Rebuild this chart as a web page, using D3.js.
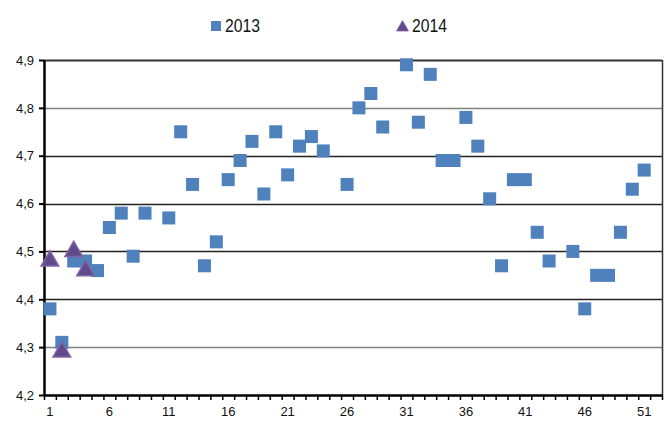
<!DOCTYPE html>
<html><head><meta charset="utf-8">
<script src="https://cdn.jsdelivr.net/npm/d3@7"></script>
<style>body{margin:0;background:#fff}svg{display:block}</style>
</head><body>
<script>
const weeks = d3.range(1, 53);
const values2013 = [4.38,4.31,4.48,4.48,4.46,4.55,4.58,4.49,4.58,null,
  4.57,4.75,4.64,4.47,4.52,4.65,4.69,4.73,4.62,4.75,
  4.66,4.72,4.74,4.71,null,4.64,4.80,4.83,4.76,null,
  4.89,4.77,4.87,4.69,4.69,4.78,4.72,4.61,4.47,4.65,
  4.65,4.54,4.48,null,4.50,4.38,4.45,4.45,4.54,4.63,
  4.67,null];
const weeks2014 = [1,2,3,4];
const values2014 = [4.48,4.29,4.50,4.46];
const yTicks = [4.2,4.3,4.4,4.5,4.6,4.7,4.8,4.9];
const xLabels = [1,6,11,16,21,26,31,36,41,46,51];
const seriesNames = ["2013","2014"];

const W = 672, H = 421;
const L = 44, R = 662, T = 60, B = 395;
const svg = d3.select("body").append("svg").attr("width", W).attr("height", H);

const x = d3.scaleLinear().domain([0.5, 52.5]).range([L, R]);
const y = d3.scaleLinear().domain([4.2, 4.9]).range([B, T]);

// gridlines
svg.append("g").selectAll("line").data(yTicks.filter(v => v > 4.2)).join("line")
  .attr("x1", L).attr("x2", R)
  .attr("y1", d => Math.round(y(d)) + 0.5).attr("y2", d => Math.round(y(d)) + 0.5)
  .attr("stroke", d => (Math.abs(d - 4.8) < 1e-6 || Math.abs(d - 4.3) < 1e-6) ? "#7f7f7f" : (Math.abs(d-4.9)<1e-6 ? "#333" : "#222"))
  .attr("stroke-width", d => Math.abs(d-4.9)<1e-6 ? 2 : 1.5);

// right border
svg.append("line").attr("x1", R + 0.5).attr("x2", R + 0.5).attr("y1", T).attr("y2", B)
  .attr("stroke", "#333").attr("stroke-width", 1.5);

// y axis
const yAxis = svg.append("g").attr("transform", `translate(${L},0)`)
  .call(d3.axisLeft(y).tickValues(yTicks).tickSize(5).tickSizeOuter(0)
    .tickFormat(d => d3.format(".1f")(d).replace(".", ",")));
yAxis.select(".domain").attr("stroke", "#000").attr("stroke-width", 2.5);
yAxis.selectAll(".tick line").attr("stroke", "#000").attr("stroke-width", 2);
yAxis.selectAll("text").attr("font-family", "Liberation Sans, Arial, sans-serif")
  .attr("font-size", 13).attr("fill", "#111").attr("x", -10);

// x axis ticks
const xAxis = svg.append("g").attr("transform", `translate(0,${B})`)
  .call(d3.axisBottom(x).tickValues(d3.range(0.5, 53, 1)).tickSize(5).tickSizeOuter(0).tickFormat(""));
xAxis.select(".domain").attr("stroke", "#000").attr("stroke-width", 2.5);
xAxis.selectAll(".tick line").attr("stroke", "#000").attr("stroke-width", 1.5);
// x labels
svg.append("g").selectAll("text").data(xLabels).join("text")
  .attr("x", d => x(d)).attr("y", B + 21)
  .attr("text-anchor", "middle")
  .attr("font-family", "Liberation Sans, Arial, sans-serif").attr("font-size", 13).attr("fill", "#111")
  .text(d => d);

// 2013 squares
const sq = 13;
svg.append("g").selectAll("rect")
  .data(weeks.map((w, i) => ({w, v: values2013[i]})).filter(d => d.v != null))
  .join("rect")
  .attr("x", d => x(d.w) - sq / 2).attr("y", d => y(d.v) - sq / 2)
  .attr("width", sq).attr("height", sq).attr("fill", "#4F81BD");

// 2014 triangles
const tri = d3.symbol().type(d3.symbolTriangle).size(135);
svg.append("g").selectAll("path")
  .data(weeks2014.map((w, i) => ({w, v: values2014[i]})))
  .join("path")
  .attr("d", tri)
  .attr("transform", d => `translate(${x(d.w)},${y(d.v)})`)
  .attr("fill", "#5F4B8B").attr("stroke", "#8064A2").attr("stroke-width", 1.5);

// legend
const lg = svg.append("g");
lg.append("rect").attr("x", 211).attr("y", 21).attr("width", 10).attr("height", 10).attr("fill", "#4F81BD");
lg.append("text").attr("x", 225).attr("y", 32).text(seriesNames[0])
  .attr("font-family", "Liberation Sans Narrow, Liberation Sans, Arial, sans-serif").attr("font-size", 18)
  .attr("textLength", 35).attr("lengthAdjust", "spacingAndGlyphs").attr("fill", "#111");
lg.append("path").attr("d", d3.symbol().type(d3.symbolTriangle).size(60))
  .attr("transform", "translate(402.5,27.5)").attr("fill", "#5F4B8B").attr("stroke", "#8064A2").attr("stroke-width", 1);
lg.append("text").attr("x", 412).attr("y", 32).text(seriesNames[1])
  .attr("font-family", "Liberation Sans Narrow, Liberation Sans, Arial, sans-serif").attr("font-size", 18)
  .attr("textLength", 35).attr("lengthAdjust", "spacingAndGlyphs").attr("fill", "#111");
</script>
</body></html>
